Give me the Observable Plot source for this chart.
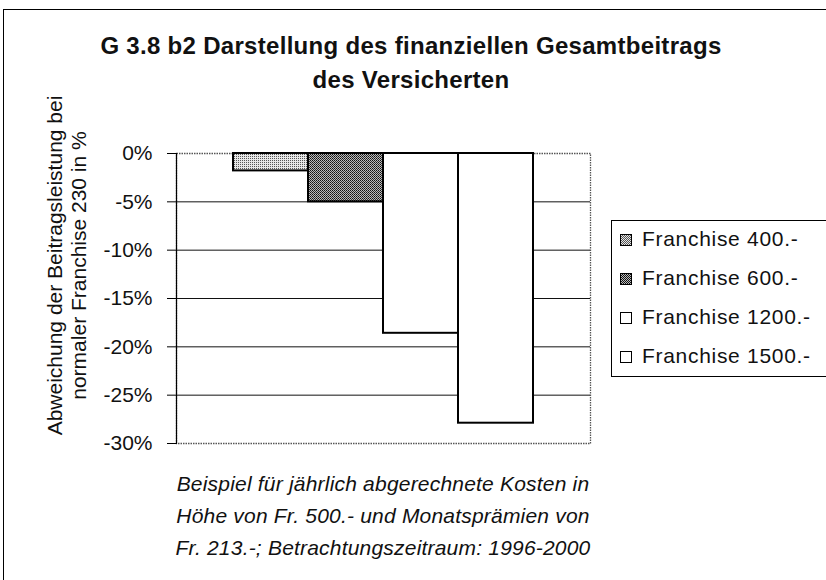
<!DOCTYPE html>
<html><head><meta charset="utf-8">
<script src="https://cdn.jsdelivr.net/npm/d3@7"></script>
<script src="https://cdn.jsdelivr.net/npm/@observablehq/plot@0.6"></script>
<style>
html,body{margin:0;padding:0;background:#fff;overflow:hidden;width:826px;height:580px;}
#wrap{position:relative;width:826px;height:580px;font-family:"Liberation Sans",Arial,sans-serif;}
#outer{position:absolute;left:3px;top:9px;width:900px;height:700px;border:1.5px solid #000;}
#title{position:absolute;left:0;width:822px;top:29px;text-align:center;font-weight:bold;font-size:24px;line-height:34px;letter-spacing:0.3px;color:#111;}
#caption{position:absolute;left:133px;width:500px;top:468px;text-align:center;font-style:italic;font-size:21px;line-height:32px;letter-spacing:0.2px;color:#111;}
#legend{position:absolute;left:611px;top:220px;width:260px;height:157px;border:1.2px solid #000;box-sizing:border-box;}
.item{position:absolute;left:8px;height:24px;font-size:21px;line-height:24px;letter-spacing:0.7px;color:#111;white-space:nowrap;}
.sw{display:inline-block;width:10px;height:10px;border:1.6px solid #000;vertical-align:0px;margin-right:10px;}
#chart{position:absolute;left:0;top:0;}
</style></head>
<body><div id="wrap"><div id="outer"></div><div id="chart"></div><div id="title"></div><div id="caption"></div><div id="legend"></div></div>
<script>
const series = ["Franchise 400.-", "Franchise 600.-", "Franchise 1200.-", "Franchise 1500.-"];
const values = [-1.8, -5.0, -18.6, -27.9];
const yTicks = [0, -5, -10, -15, -20, -25, -30];
const gridTicks = [-5, -10, -15, -20, -25];
const titleLines = ["G 3.8 b2 Darstellung des finanziellen Gesamtbeitrags", "des Versicherten"];
const yLabel = "Abweichung der Beitragsleistung bei\nnormaler Franchise 230 in %";
const captionLines = ["Beispiel für jährlich abgerechnete Kosten in", "Höhe von Fr. 500.- und Monatsprämien von", "Fr. 213.-; Betrachtungszeitraum: 1996-2000"];
const fills = ["url(#patLight)", "url(#patDark)", "#fff", "#fff"];

const data = series.map((s, i) => ({s, v: values[i], f: fills[i]}));

const chart = Plot.plot({
  width: 826, height: 580,
  marginTop: 153, marginBottom: 137, marginLeft: 176, marginRight: 236,
  style: {fontFamily: "'Liberation Sans', Arial, sans-serif", background: "transparent", color: "#111"},
  x: {type: "band", domain: series, paddingInner: 0, paddingOuter: 0.75, axis: null},
  y: {domain: [-30, 0], axis: null},
  marks: [
    Plot.frame({stroke: "#555", strokeDasharray: "1.5,1", strokeWidth: 1.3}),
    Plot.ruleY(gridTicks, {stroke: "#111", strokeWidth: 1}),
    Plot.barY(data, {x: "s", y: "v", fill: "f", stroke: "#000", strokeWidth: 2}),
    Plot.frame({anchor: "left", stroke: "#000", strokeWidth: 1.2}),
    Plot.axisY(yTicks, {tickFormat: d => d + "%", tickSize: 9, tickPadding: 15, fontSize: 21, label: null, stroke: "#000"}),
    Plot.text([yLabel], {frameAnchor: "left", rotate: -90, dx: -110, dy: -33, fontSize: 21, lineHeight: 1.15, textAnchor: "middle", fill: "#111"})
  ]
});

// patterns
const ns = "http://www.w3.org/2000/svg";
const defs = document.createElementNS(ns, "defs");
defs.innerHTML = `
<pattern id="patLight" width="2" height="2" patternUnits="userSpaceOnUse">
  <rect width="2" height="2" fill="#e6e6e6"/><rect width="1" height="1" fill="#555"/>
</pattern>
<pattern id="patDark" width="2" height="2" patternUnits="userSpaceOnUse">
  <rect width="2" height="2" fill="#bbb"/><rect width="1" height="1" fill="#111"/><rect x="1" y="1" width="1" height="1" fill="#333"/>
</pattern>`;
chart.insertBefore(defs, chart.firstChild);
document.getElementById("chart").appendChild(chart);

document.getElementById("title").innerHTML = titleLines.join("<br>");
document.getElementById("caption").innerHTML = captionLines.join("<br>");
const leg = document.getElementById("legend");
const swFills = ["repeating-conic-gradient(#555 0 25%, #e6e6e6 0 50%) 0 0/2px 2px", "repeating-conic-gradient(#111 0 25%, #bbb 0 50%) 0 0/2px 2px", "#fff", "#fff"];
series.forEach((s, i) => {
  const it = document.createElement("div");
  it.className = "item";
  it.style.top = (6 + i * 39) + "px";
  const sw = document.createElement("span");
  sw.className = "sw";
  sw.style.background = swFills[i];
  it.appendChild(sw);
  it.appendChild(document.createTextNode(s));
  leg.appendChild(it);
});
</script></body></html>
